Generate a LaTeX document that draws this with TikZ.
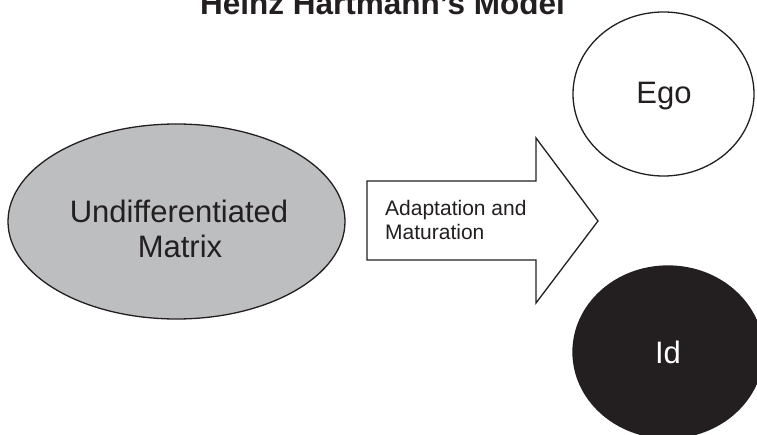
\documentclass[tikz,border=0pt]{standalone}
\usepackage{fontspec}
\setmainfont{Liberation Sans}
\usetikzlibrary{shapes.geometric}
\definecolor{matgray}{HTML}{BCBEC0}
\definecolor{iddark}{HTML}{231F20}
\begin{document}
\begin{tikzpicture}[x=1pt,y=-1pt,
  shapeline/.style={draw=iddark,line width=1.3pt},
  bigtext/.style={font=\fontsize{31}{35}\selectfont,text=iddark,anchor=base,inner sep=0pt},
  smalltext/.style={font=\fontsize{21}{24}\selectfont,text=iddark,anchor=base west,inner sep=0pt}]
\useasboundingbox (0,0) rectangle (757,435);
% title
\node[font=\fontsize{31.5}{35}\selectfont\bfseries,text=iddark,anchor=base,inner sep=0pt] (title) at (382.5,15) {Heinz Hartmann’s Model};
% undifferentiated matrix
\node[shapeline,fill=matgray,ellipse,minimum width=337pt,minimum height=195pt,inner sep=0pt] (mat) at (176.5,221.5) {};
\node[bigtext] (mat1) at (179,223) {Undifferentiated};
\node[bigtext] (mat2) at (180,258) {Matrix};
% block arrow
\coordinate (a1) at (367,181);
\coordinate (a2) at (536,181);
\coordinate (a3) at (536,138);
\coordinate (tip) at (598,221);
\coordinate (a5) at (536,303);
\coordinate (a6) at (536,260);
\coordinate (a7) at (367,260);
\draw[shapeline,fill=white,line join=miter] (a1) -- (a2) -- (a3) -- (tip) -- (a5) -- (a6) -- (a7) -- cycle;
\node[smalltext] (adapt1) at (385,216) {Adaptation and};
\node[smalltext] (adapt2) at (385,240) {Maturation};
% ego
\node[shapeline,fill=white,ellipse,minimum width=181pt,minimum height=164pt,inner sep=0pt] (ego) at (663.5,94) {};
\node[bigtext] (egotext) at (664,104) {Ego};
% id
\node[draw=iddark,line width=1.3pt,fill=iddark,ellipse,minimum width=190pt,minimum height=172pt,inner sep=0pt] (id) at (668,352) {};
\node[bigtext,text=white] (idtext) at (668,363) {Id};
\end{tikzpicture}
\end{document}
